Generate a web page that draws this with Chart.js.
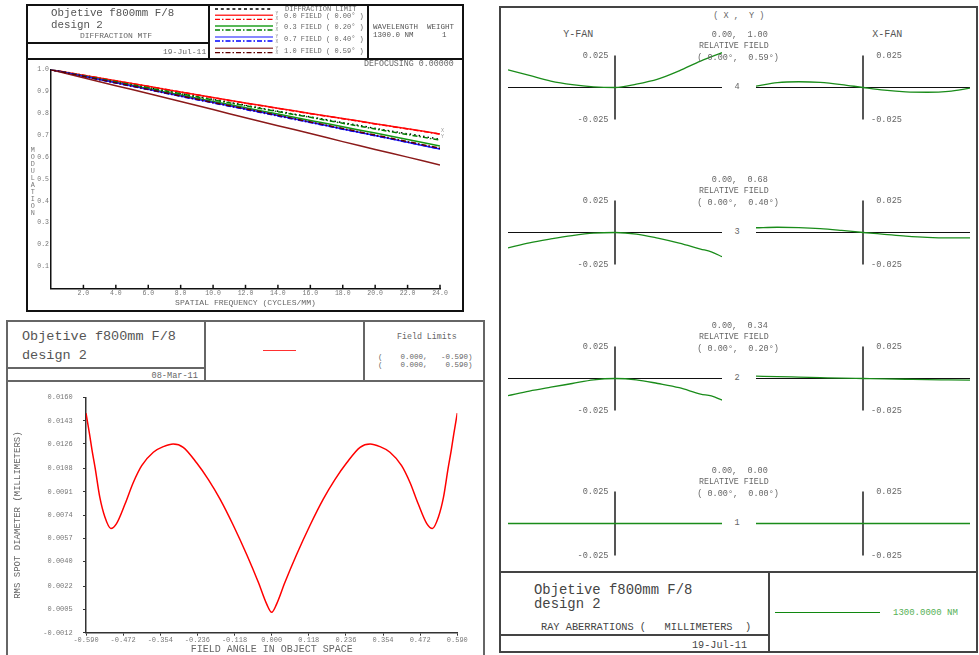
<!DOCTYPE html>
<html>
<head>
<meta charset="utf-8">
<script src="https://cdn.jsdelivr.net/npm/chart.js@4.4.1/dist/chart.umd.min.js"></script>
<style>
html, body { margin: 0; padding: 0; background: #fff; }
body { width: 979px; height: 655px; position: relative; overflow: hidden; font-family: 'Liberation Mono', 'Courier New', monospace; }
.r { position: absolute; }
.t { position: absolute; white-space: pre; line-height: 1; color: #555; }
canvas { position: absolute; }
.updown { writing-mode: vertical-lr; text-orientation: upright; letter-spacing: -1px; }
</style>
</head>
<body>
<svg class="r" style="left:209px;top:0px" width="80" height="60">
  <line x1="6" y1="9" x2="64" y2="9" stroke="#000" stroke-width="1.3" stroke-dasharray="3,2.8"/>
  <line x1="6" y1="15.3" x2="64" y2="15.3" stroke="#ff3333" stroke-width="1.5"/>
  <line x1="6" y1="19.3" x2="64" y2="19.3" stroke="#ff0000" stroke-width="1.3" stroke-dasharray="5,2,1.5,2"/>
  <line x1="6" y1="26" x2="64" y2="26" stroke="#22a022" stroke-width="1.5"/>
  <line x1="6" y1="30" x2="64" y2="30" stroke="#008000" stroke-width="1.3" stroke-dasharray="5,2,1.5,2"/>
  <line x1="6" y1="37" x2="64" y2="37" stroke="#6060ff" stroke-width="1.5"/>
  <line x1="6" y1="41" x2="64" y2="41" stroke="#0000ff" stroke-width="1.3" stroke-dasharray="5,2,1.5,2"/>
  <line x1="6" y1="48.3" x2="64" y2="48.3" stroke="#a05050" stroke-width="1.5"/>
  <line x1="6" y1="52.7" x2="64" y2="52.7" stroke="#600000" stroke-width="1.3" stroke-dasharray="5,2,1.5,2"/>
</svg>
<canvas id="mtf" width="432" height="249" style="left:29px;top:61px"></canvas>
<canvas id="spot" width="473" height="272" style="left:9px;top:383px"></canvas>
<script>
// ---- MTF data (cycles/mm vs modulation) ----
const mtfFreq = [0, 2, 4, 6, 8, 10, 12, 14, 16, 18, 20, 22, 24];
const mtfFreqTicks = [2, 4, 6, 8, 10, 12, 14, 16, 18, 20, 22, 24];
const mtfModTicks = [0.1, 0.2, 0.3, 0.4, 0.5, 0.6, 0.7, 0.8, 0.9, 1.0];
const diffLimit = [1.000, 0.973, 0.946, 0.918, 0.891, 0.864, 0.837, 0.810, 0.784, 0.758, 0.732, 0.707, 0.682];
const field00Y = [1.000, 0.975, 0.949, 0.924, 0.898, 0.873, 0.848, 0.824, 0.800, 0.777, 0.753, 0.730, 0.706];
const field00X = [1.000, 0.975, 0.949, 0.924, 0.898, 0.872, 0.847, 0.823, 0.799, 0.776, 0.752, 0.729, 0.705];
const field03Y = [1.000, 0.971, 0.942, 0.913, 0.884, 0.855, 0.826, 0.797, 0.768, 0.739, 0.710, 0.681, 0.651];
const field03X = [1.000, 0.972, 0.945, 0.917, 0.890, 0.862, 0.835, 0.808, 0.782, 0.755, 0.729, 0.703, 0.678];
const field07Y = [1.000, 0.970, 0.940, 0.910, 0.880, 0.850, 0.820, 0.790, 0.760, 0.729, 0.699, 0.668, 0.637];
const field07X = [1.000, 0.969, 0.939, 0.909, 0.878, 0.848, 0.818, 0.788, 0.758, 0.728, 0.698, 0.668, 0.638];
const field10Y = [1.000, 0.963, 0.927, 0.891, 0.855, 0.818, 0.780, 0.744, 0.708, 0.671, 0.635, 0.600, 0.564];
const field10X = [1.000, 0.970, 0.940, 0.910, 0.880, 0.850, 0.821, 0.791, 0.761, 0.731, 0.701, 0.671, 0.641];

// ---- RMS spot diameter vs field angle ----
const spotAngle = [-0.590, -0.579, -0.571, -0.561, -0.546, -0.530, -0.511, -0.493, -0.466, -0.440, -0.413, -0.376, -0.344, -0.313, -0.281, -0.238, -0.201, -0.164, -0.122, -0.079, -0.042, -0.016, 0.000,
                   0.016, 0.042, 0.079, 0.122, 0.164, 0.201, 0.238, 0.281, 0.313, 0.344, 0.376, 0.413, 0.440, 0.466, 0.493, 0.511, 0.530, 0.546, 0.561, 0.571, 0.579, 0.590];
const spotRms = [0.01485, 0.01336, 0.01217, 0.01085, 0.00869, 0.00726, 0.00642, 0.00678, 0.00821, 0.00977, 0.01102, 0.01200, 0.01241, 0.01260, 0.01236, 0.01121, 0.01000, 0.00857, 0.00666, 0.00450, 0.00247, 0.00091, 0.00029,
                 0.00091, 0.00247, 0.00450, 0.00666, 0.00857, 0.01000, 0.01121, 0.01236, 0.01260, 0.01241, 0.01200, 0.01102, 0.00977, 0.00821, 0.00678, 0.00642, 0.00726, 0.00869, 0.01085, 0.01217, 0.01336, 0.01485];
const spotAngleTicks = [-0.590, -0.472, -0.354, -0.236, -0.118, 0.000, 0.118, 0.236, 0.354, 0.472, 0.590];
const spotRmsTicks = [-0.0012, 0.0005, 0.0022, 0.0040, 0.0057, 0.0074, 0.0091, 0.0108, 0.0126, 0.0143, 0.0160];

// ---- ray fans (relative pupil vs aberration, mm) ----
const fanLimit = 0.025;
const fanPupil = [-1.0, -0.8, -0.6, -0.4, -0.2, 0.0, 0.2, 0.4, 0.6, 0.8, 1.0];
const fanPupilEdge = [-1.0, -0.8, -0.6, -0.4, -0.2, 0.0, 0.2, 0.4, 0.6, 0.8, 0.9, 1.0];
const yFan4 = [0.0138, 0.0094, 0.0050, 0.0022, 0.0005, 0, 0.0026, 0.0065, 0.0130, 0.0206, 0.0271];
const xFan4 = [0.0010, 0.0038, 0.0045, 0.0040, 0.0023, 0, -0.0021, -0.0034, -0.0037, -0.0030, -0.0005];
const yFan3 = [-0.0120, -0.0080, -0.0050, -0.0024, -0.0005, 0, -0.0012, -0.0044, -0.0083, -0.0129, -0.0151, -0.0188];
const xFan3 = [0.0037, 0.0041, 0.0038, 0.0030, 0.0016, 0, -0.0014, -0.0028, -0.0038, -0.0042, -0.0042];
const yFan2 = [-0.0133, -0.0098, -0.0068, -0.0039, -0.0010, 0, -0.0010, -0.0039, -0.0072, -0.0121, -0.0136, -0.0168];
const xFan2 = [0.0018, 0.0015, 0.0011, 0.0007, 0.0003, 0, -0.0003, -0.0006, -0.0009, -0.0011, -0.0013];
const yFan1 = [0, 0, 0, 0, 0, 0, 0, 0, 0, 0, 0];
const xFan1 = [0, 0, 0, 0, 0, 0, 0, 0, 0, 0, 0];

// ---- page furniture ----
function rule(x, y, w, h, c) {
    const d = document.createElement('div');
    d.className = 'r';
    Object.assign(d.style, {left: x + 'px', top: y + 'px', width: w + 'px', height: h + 'px', background: c});
    document.body.appendChild(d);
}
function hline(x1, x2, y, w, c) { rule(x1 - w / 2, y - w / 2, x2 - x1 + w, w, c); }
function vline(x, y1, y2, w, c) { rule(x - w / 2, y1 - w / 2, w, y2 - y1 + w, c); }
function frame(x1, y1, x2, y2, w, c) {
    hline(x1, x2, y1, w, c); hline(x1, x2, y2, w, c);
    vline(x1, y1, y2, w, c); vline(x2, y1, y2, w, c);
}
function label(x, y, s, size, color, align) {
    const d = document.createElement('div');
    d.className = 't';
    d.textContent = s;
    d.style.left = x + 'px';
    d.style.top = (y - size / 2) + 'px';
    d.style.fontSize = size + 'px';
    if (color) d.style.color = color;
    if (align === 'center') d.style.transform = 'translateX(-50%)';
    if (align === 'right') d.style.transform = 'translateX(-100%)';
    document.body.appendChild(d);
    return d;
}

// MTF panel
frame(27, 5, 463, 311, 2, '#111');
hline(27, 463, 59, 2, '#111');
vline(209, 5, 59, 2, '#111');
vline(368, 5, 59, 2, '#111');
hline(27, 209, 43, 2, '#111');
label(51, 13.5, 'Objetive f800mm F/8', 10.8, '#555');
label(51, 25, 'design 2', 10.8, '#555');
label(80, 35.7, 'DIFFRACTION MTF', 8, '#666');
label(163, 51.7, '19-Jul-11', 8, '#666');
label(285, 9, 'DIFFRACTION LIMIT', 7, '#666');
const legendRows = [['0.0 FIELD ( 0.00° )', 16.7], ['0.3 FIELD ( 0.20° )', 27.7], ['0.7 FIELD ( 0.40° )', 39.5], ['1.0 FIELD ( 0.59° )', 51]];
legendRows.forEach(([s, y]) => {
    label(284, y, s, 7, '#666');
    label(275.5, y - 2.2, 'Y', 4.5, '#888');
    label(275.5, y + 2.6, 'X', 4.5, '#888');
});
label(373, 28, 'WAVELENGTH  WEIGHT', 7.5, '#555');
label(373, 35.5, '1300.0 NM', 7.5, '#555');
label(442, 35.5, '1', 7.5, '#555');
label(364, 64.3, 'DEFOCUSING 0.00000', 8.3, '#666');
label(441, 131.5, 'X', 5, '#999');
label(441, 137.5, 'Y', 5, '#999');
const mod = label(29, 181, 'MODULATION', 6.8, '#777');
mod.classList.add('updown');
mod.style.top = '146px';

// spot panel
frame(7, 321, 484, 690, 2, '#666');
hline(7, 484, 381, 2, '#666');
vline(205, 321, 381, 2, '#666');
vline(364.3, 321, 381, 2, '#666');
hline(7, 205, 368.3, 2, '#666');
label(22, 337, 'Objetive f800mm F/8', 13.5, '#555');
label(22, 355.7, 'design 2', 13.5, '#555');
label(151.5, 376, '08-Mar-11', 8.6, '#666');
rule(263, 349.5, 33, 1.5, '#ff3030');
label(397, 337, 'Field Limits', 8.3, '#666');
label(378, 357.3, '(    0.000,   -0.590)', 7.5, '#666');
label(378, 365.8, '(    0.000,    0.590)', 7.5, '#666');

// ray fan panel
frame(500, 7, 977, 652, 2, '#444');
hline(500, 977, 572, 2, '#444');
vline(769, 572, 652, 2, '#444');
hline(500, 769, 635, 2, '#444');
label(713.3, 16, '( X ,  Y )', 8.5, '#666');
label(563.3, 34.7, 'Y-FAN', 10, '#555');
label(872.3, 34.7, 'X-FAN', 10, '#555');
label(534, 591, 'Objetive f800mm F/8', 13.9, '#444');
label(534, 604.7, 'design 2', 13.9, '#444');
label(541, 627, 'RAY ABERRATIONS (   MILLIMETERS  )', 10.3, '#444');
label(692, 646, '19-Jul-11', 10.2, '#444');
rule(775, 611.5, 105, 1.6, '#108810');
label(893, 613, '1300.0000 NM', 9, '#55b055');

// ---- charts ----
Chart.defaults.font.family = "'Liberation Mono', 'Courier New', monospace";
Chart.defaults.animation = false;
Chart.defaults.responsive = false;
Chart.defaults.devicePixelRatio = 1;
Chart.defaults.plugins.legend.display = false;
Chart.defaults.plugins.tooltip.enabled = false;

const dashDot = [5, 2, 1.5, 2];
const pts = (xs, ys) => xs.map((v, i) => ({x: v, y: ys[i]}));

const insideTicks = {
    id: 'insideTicks',
    afterDraw(chart) {
        const {ctx, chartArea: a, scales: {x}} = chart;
        ctx.save();
        ctx.strokeStyle = '#111';
        ctx.lineWidth = 1.5;
        x.ticks.forEach(t => {
            const px = x.getPixelForValue(t.value);
            ctx.beginPath();
            ctx.moveTo(px, a.bottom);
            ctx.lineTo(px, a.bottom - 3.5);
            ctx.stroke();
        });
        ctx.restore();
    }
};

// top-most first (Chart.js draws dataset 0 last)
const mtfCurves = [
    {values: field10X, color: '#600000', dash: dashDot},
    {values: field10Y, color: '#8b1a1a', dash: []},
    {values: field07X, color: '#0000ff', dash: dashDot},
    {values: field07Y, color: '#1a1aff', dash: []},
    {values: field03X, color: '#008000', dash: dashDot},
    {values: field03Y, color: '#119911', dash: []},
    {values: field00X, color: '#ff0000', dash: dashDot},
    {values: field00Y, color: '#ff1010', dash: []},
    {values: diffLimit, color: '#000000', dash: [1.5, 3]}
];

new Chart(document.getElementById('mtf'), {
    type: 'line',
    data: {
        datasets: mtfCurves.map(c => ({
            data: pts(mtfFreq, c.values),
            borderColor: c.color,
            borderDash: c.dash,
            borderWidth: 1.5,
            pointRadius: 0,
            tension: 0.3,
            fill: false
        }))
    },
    options: {
        layout: {padding: {top: 8.7, right: 21, left: 0, bottom: 0}},
        scales: {
            x: {
                type: 'linear', min: 0, max: 24,
                afterBuildTicks: s => { s.ticks = mtfFreqTicks.map(v => ({value: v})); },
                afterFit: s => { s.height = 21.7; },
                grid: {display: false, drawTicks: false},
                border: {color: '#111', width: 1.5},
                ticks: {color: '#777', font: {size: 6.5}, padding: 1.5, maxRotation: 0, callback: v => v.toFixed(1)},
                title: {display: true, text: 'SPATIAL FREQUENCY (CYCLES/MM)', color: '#666', font: {size: 8.1}, padding: {top: 0, bottom: 2.4}}
            },
            y: {
                type: 'linear', min: 0, max: 1,
                afterBuildTicks: s => { s.ticks = mtfModTicks.map(v => ({value: v})); },
                afterFit: s => { s.width = 22; },
                grid: {display: false, drawTicks: false},
                border: {color: '#111', width: 1.5},
                ticks: {color: '#777', font: {size: 6.5}, padding: 2, callback: v => v.toFixed(1)}
            }
        }
    },
    plugins: [insideTicks]
});

new Chart(document.getElementById('spot'), {
    type: 'line',
    data: {
        datasets: [{
            data: pts(spotAngle, spotRms),
            borderColor: '#ff0000',
            borderWidth: 1.5,
            pointRadius: 0,
            cubicInterpolationMode: 'monotone',
            fill: false
        }]
    },
    options: {
        layout: {padding: {top: 10.3, right: 24.7, left: 0, bottom: 0}},
        scales: {
            x: {
                type: 'linear', min: -0.59, max: 0.59,
                afterBuildTicks: s => { s.ticks = spotAngleTicks.map(v => ({value: v})); },
                afterFit: s => { s.height = 22.3; },
                grid: {display: true, drawOnChartArea: false, drawTicks: true, tickLength: 3, color: '#333'},
                border: {color: '#333', width: 1.5},
                ticks: {color: '#777', font: {size: 7}, padding: 0, maxRotation: 0, autoSkip: false, callback: v => v.toFixed(3)},
                title: {display: true, text: 'FIELD ANGLE IN OBJECT SPACE', color: '#666', font: {size: 10, lineHeight: 1.0}, padding: {top: 0, bottom: 0.7}}
            },
            y: {
                type: 'linear', min: -0.0012, max: 0.016,
                afterBuildTicks: s => { s.ticks = spotRmsTicks.map(v => ({value: v})); },
                afterFit: s => { s.width = 77; },
                grid: {display: true, drawOnChartArea: false, drawTicks: true, tickLength: 3, color: '#333'},
                border: {color: '#333', width: 1.5},
                ticks: {color: '#777', font: {size: 7}, padding: 10.3, autoSkip: false, callback: v => v.toFixed(4)},
                title: {display: true, text: 'RMS SPOT DIAMETER (MILLIMETERS)', color: '#666', font: {size: 9}, padding: {top: 2.9, bottom: 0}}
            }
        }
    }
});

const fanAxes = {
    id: 'fanAxes',
    beforeDatasetsDraw(chart, args, opts) {
        const {ctx, chartArea: a, scales: {x, y}} = chart;
        const x0 = x.getPixelForValue(0);
        const y0 = y.getPixelForValue(0);
        const yt = y.getPixelForValue(fanLimit);
        const yb = y.getPixelForValue(-fanLimit);
        ctx.save();
        ctx.strokeStyle = '#111';
        ctx.lineWidth = 1;
        ctx.beginPath();
        ctx.moveTo(a.left, y0);
        ctx.lineTo(a.right, y0);
        ctx.stroke();
        ctx.strokeStyle = '#555';
        ctx.lineWidth = 2;
        ctx.beginPath();
        ctx.moveTo(x0, yt);
        ctx.lineTo(x0, yb);
        ctx.stroke();
        ctx.fillStyle = '#666';
        ctx.font = "8.6px 'Liberation Mono', monospace";
        ctx.textBaseline = 'middle';
        ctx.textAlign = 'right';
        const tx = opts.side === 'left' ? x0 - 6.5 : x0 + 39;
        ctx.fillText(fanLimit.toFixed(3), tx, yt);
        ctx.fillText((-fanLimit).toFixed(3), tx, yb);
        ctx.restore();
    }
};

const fanRows = [
    {num: '4', axisY: 87.3, field: '0.00,  1.00', angle: '( 0.00°,  0.59°)', yP: fanPupil, yE: yFan4, xE: xFan4},
    {num: '3', axisY: 232.3, field: '0.00,  0.68', angle: '( 0.00°,  0.40°)', yP: fanPupilEdge, yE: yFan3, xE: xFan3},
    {num: '2', axisY: 378.3, field: '0.00,  0.34', angle: '( 0.00°,  0.20°)', yP: fanPupilEdge, yE: yFan2, xE: xFan2},
    {num: '1', axisY: 523.3, field: '0.00,  0.00', angle: '( 0.00°,  0.00°)', yP: fanPupil, yE: yFan1, xE: xFan1}
];

function fanChart(left, top, xs, ys, side) {
    const cv = document.createElement('canvas');
    cv.width = 214;
    cv.height = 77;
    cv.style.left = left + 'px';
    cv.style.top = top + 'px';
    document.body.appendChild(cv);
    new Chart(cv, {
        type: 'line',
        data: {
            datasets: [{
                data: pts(xs, ys),
                borderColor: '#1a8c1a',
                borderWidth: 1.3,
                pointRadius: 0,
                cubicInterpolationMode: 'monotone',
                fill: false,
                clip: false
            }]
        },
        options: {
            layout: {padding: 0},
            plugins: {fanAxes: {side: side}},
            scales: {
                x: {type: 'linear', min: -1, max: 1, display: false},
                y: {type: 'linear', min: -0.03, max: 0.03, display: false}
            }
        },
        plugins: [fanAxes]
    });
}

fanRows.forEach(r => {
    fanChart(508, r.axisY - 38.5, r.yP, r.yE, 'left');
    fanChart(756, r.axisY - 38.5, fanPupil, r.xE, 'right');
    label(737, r.axisY, r.num, 8.6, '#666', 'center');
    label(711.7, r.axisY - 52.3, r.field, 8.5, '#666');
    label(699, r.axisY - 41.2, 'RELATIVE FIELD', 8.3, '#666');
    label(697.3, r.axisY - 29.3, r.angle, 8.5, '#666');
});
</script>
</body>
</html>
